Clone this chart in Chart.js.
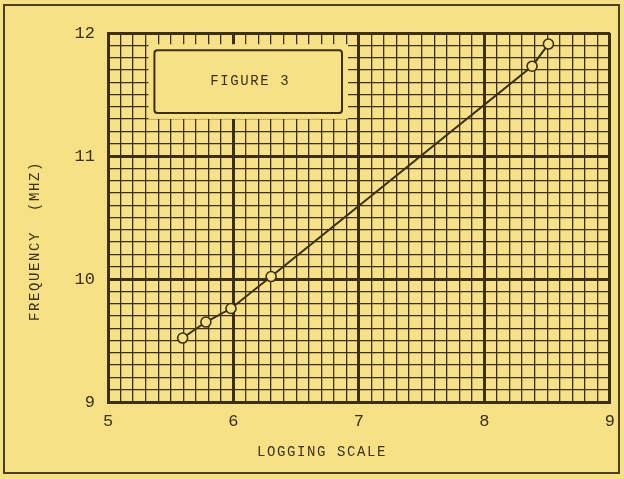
<!DOCTYPE html>
<html><head><meta charset="utf-8">
<script src="https://cdn.jsdelivr.net/npm/chart.js@4"></script>
<style>html,body{margin:0;padding:0;background:#f6e185;}canvas{display:block}</style>
</head><body>
<canvas id="c" width="624" height="479"></canvas>
<script>
// ---- data ----
const loggingScale = [5.595, 5.78, 5.98, 6.30, 8.38, 8.51];
const frequencyMHz = [9.52, 9.65, 9.76, 10.02, 11.73, 11.91];
const xTickLabels = [5, 6, 7, 8, 9];
const yTickLabels = [9, 10, 11, 12];
const xTitle = 'LOGGING SCALE';
const yTitle = 'FREQUENCY  (MHZ)';
const figureLabel = 'FIGURE 3';

// ---- style ----
const PAPER = '#f6e185';
const INK = '#3b2f17';
const FONT = '"Liberation Mono", "DejaVu Sans Mono", monospace';

const isMajor = v => Math.abs(v - Math.round(v)) < 1e-6;

const paperPlugin = {
  id: 'paper',
  beforeDraw(chart) {
    const { ctx, width, height } = chart;
    ctx.save();
    ctx.fillStyle = PAPER;
    ctx.fillRect(0, 0, width, height);
    ctx.strokeStyle = '#4d3f25';
    ctx.lineWidth = 2;
    ctx.strokeRect(4, 5, 615, 468);
    ctx.restore();
  },
  beforeDatasetsDraw(chart) {
    const { ctx, scales: { x, y } } = chart;
    const l = x.getPixelForValue(5.37), r = x.getPixelForValue(6.865);
    const t = y.getPixelForValue(11.86), b = y.getPixelForValue(11.35);
    ctx.save();
    ctx.fillStyle = PAPER;
    ctx.fillRect(l - 6, t - 6, r - l + 12, b - t + 12);
    ctx.strokeStyle = INK;
    ctx.lineWidth = 2;
    ctx.beginPath();
    ctx.roundRect(l, t, r - l, b - t, 3);
    ctx.stroke();
    ctx.fillStyle = INK;
    ctx.font = '14px ' + FONT;
    ctx.letterSpacing = '1.6px';
    ctx.textAlign = 'center';
    ctx.textBaseline = 'middle';
    ctx.fillText(figureLabel, (l + r) / 2 + 2, (t + b) / 2);
    ctx.restore();
  },
  afterDraw(chart) {
    const { ctx } = chart;
    ctx.save();
    ctx.fillStyle = INK;
    ctx.font = '14px ' + FONT;
    ctx.letterSpacing = '1.6px';
    ctx.textAlign = 'center';
    ctx.textBaseline = 'middle';
    ctx.fillText(xTitle, 322, 452);
    ctx.translate(35, 241);
    ctx.rotate(-Math.PI / 2);
    ctx.fillText(yTitle, 0, 0);
    ctx.restore();
  }
};

const gridOpts = {
  color: INK,
  lineWidth: c => (c.tick && isMajor(c.tick.value)) ? 3 : 1.3,
  drawTicks: false
};

new Chart(document.getElementById('c'), {
  type: 'scatter',
  data: {
    datasets: [{
      data: loggingScale.map((v, i) => ({ x: v, y: frequencyMHz[i] })),
      showLine: true,
      borderColor: INK,
      borderWidth: 2,
      pointRadius: 5,
      pointBorderWidth: 1.6,
      pointBackgroundColor: PAPER,
      pointBorderColor: INK
    }]
  },
  options: {
    responsive: false,
    animation: false,
    events: [],
    layout: { padding: { top: 33, right: 12, left: 0, bottom: 0 } },
    plugins: { legend: { display: false }, tooltip: { enabled: false } },
    scales: {
      x: {
        type: 'linear', min: 5, max: 9,
        afterFit: s => { s.height = 77; },
        grid: gridOpts,
        border: { display: true, width: 3, color: INK },
        ticks: {
          stepSize: 0.1, autoSkip: false, maxRotation: 0, padding: 9,
          color: INK, font: { family: FONT, size: 17 },
          callback: v => (isMajor(v) && xTickLabels.includes(Math.round(v))) ? String(Math.round(v)) : ''
        }
      },
      y: {
        type: 'linear', min: 9, max: 12,
        afterFit: s => { s.width = 108; },
        grid: gridOpts,
        border: { display: true, width: 3, color: INK },
        ticks: {
          stepSize: 0.1, autoSkip: false, padding: 13,
          color: INK, font: { family: FONT, size: 17 },
          callback: v => (isMajor(v) && yTickLabels.includes(Math.round(v))) ? String(Math.round(v)) : ''
        }
      }
    }
  },
  plugins: [paperPlugin]
});
</script>
</body></html>
